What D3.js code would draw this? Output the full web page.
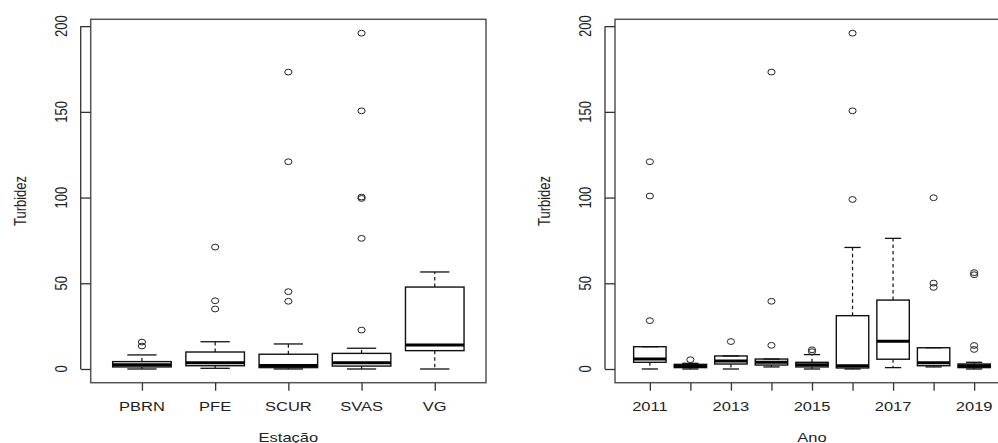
<!DOCTYPE html>
<html>
<head>
<meta charset="utf-8">
<script src="https://cdn.jsdelivr.net/npm/d3@7"></script>
<style>
  body { margin: 0; background: #fff; }
  svg { display: block; }
  text { font-family: "Liberation Sans", Arial, sans-serif; fill: #222; }
</style>
</head>
<body>
<svg id="chart" width="998" height="443"></svg>
<script>
// Panel 1: turbidity by station
const stations = ['PBRN', 'PFE', 'SCUR', 'SVAS', 'VG'];
const stLow = [0, 0.4, 0, 0, 0];
const stQ1 = [1.2, 1.9, 0.8, 1.7, 10.7];
const stMed = [2.5, 3.7, 2.0, 3.7, 14.0];
const stQ3 = [4.3, 9.9, 8.6, 9.1, 47.8];
const stHigh = [8.2, 15.9, 14.6, 12.1, 56.6];
const stOut = [
  [15.7, 13.4],
  [71.1, 39.8, 35.0],
  [173.2, 120.9, 45.1, 39.5],
  [195.9, 150.6, 100.3, 99.5, 76.2, 22.7],
  []
];

// Panel 2: turbidity by year
const years = ['2011', '2012', '2013', '2014', '2015', '2016', '2017', '2018', '2019'];
const yrTickLabels = ['2011', '', '2013', '', '2015', '', '2017', '', '2019'];
const yrLow = [0, 0, 0, 1.2, 0, 0, 0.8, 1.2, 0];
const yrQ1 = [3.9, 0.8, 2.9, 2.3, 1.2, 0.6, 5.7, 1.9, 0.8];
const yrMed = [5.8, 1.6, 4.7, 3.9, 2.5, 1.9, 16.2, 3.7, 1.9];
const yrQ3 = [13.0, 2.7, 7.6, 5.8, 3.9, 31.1, 40.2, 12.4, 2.9];
const yrHigh = [13.0, 3.3, 7.6, 5.8, 8.4, 70.9, 76.2, 12.4, 3.9];
const yrOut = [
  [120.9, 100.9, 28.2],
  [5.4],
  [16.0],
  [173.2, 39.5, 13.8],
  [11.2, 10.1],
  [195.9, 150.6, 98.9],
  [],
  [99.9, 50.1, 47.6],
  [56.2, 55.0, 13.7, 11.4]
];

const yTicks = [0, 50, 100, 150, 200];

const svg = d3.select('#chart');
const SX = 1.27; // the picture is stretched horizontally
const plotTop = 19.3, plotBottom = 382.7;
const y = d3.scaleLinear().domain([-8, 204]).range([plotBottom, plotTop]);

function panel(opts) {
  const n = opts.cats.length;
  const x = d3.scaleLinear()
    .domain([0.5 - 0.04 * n, n + 0.5 + 0.04 * n])
    .range([opts.left, opts.right]);
  const bw = 0.8 * (x(2) - x(1));
  const g = svg.append('g');

  const stats = opts.cats.map((c, i) => ({
    i: i + 1, lo: opts.low[i], q1: opts.q1[i], med: opts.med[i],
    q3: opts.q3[i], hi: opts.high[i], out: opts.out[i]
  }));

  const wk = g.selectAll('g.box').data(stats).enter().append('g').attr('class', 'box');
  // whiskers (dashed)
  wk.append('line')
    .attr('x1', d => x(d.i)).attr('x2', d => x(d.i))
    .attr('y1', d => y(d.q3)).attr('y2', d => y(d.hi))
    .attr('stroke', '#111').attr('stroke-width', 1.2).attr('stroke-dasharray', '3.5,3');
  wk.append('line')
    .attr('x1', d => x(d.i)).attr('x2', d => x(d.i))
    .attr('y1', d => y(d.q1)).attr('y2', d => y(d.lo))
    .attr('stroke', '#111').attr('stroke-width', 1.2).attr('stroke-dasharray', '3.5,3');
  // staples
  ['hi', 'lo'].forEach(k => {
    wk.append('line')
      .attr('x1', d => x(d.i) - bw / 4).attr('x2', d => x(d.i) + bw / 4)
      .attr('y1', d => y(d[k])).attr('y2', d => y(d[k]))
      .attr('stroke', '#111').attr('stroke-width', 1.3);
  });
  // box
  wk.append('rect')
    .attr('x', d => x(d.i) - bw / 2).attr('width', bw)
    .attr('y', d => y(d.q3)).attr('height', d => y(d.q1) - y(d.q3))
    .attr('fill', 'none').attr('stroke', '#111').attr('stroke-width', 1.4);
  // median
  wk.append('line')
    .attr('x1', d => x(d.i) - bw / 2).attr('x2', d => x(d.i) + bw / 2)
    .attr('y1', d => y(d.med)).attr('y2', d => y(d.med))
    .attr('stroke', '#000').attr('stroke-width', 3);
  // outliers
  wk.selectAll('ellipse').data(d => d.out.map(v => ({ i: d.i, v }))).enter()
    .append('ellipse')
    .attr('cx', d => x(d.i)).attr('cy', d => y(d.v))
    .attr('rx', 3.6).attr('ry', 2.9)
    .attr('fill', 'none').attr('stroke', '#222').attr('stroke-width', 1);

  // frame
  g.append('rect')
    .attr('x', opts.left).attr('y', plotTop)
    .attr('width', opts.right - opts.left).attr('height', plotBottom - plotTop)
    .attr('fill', 'none').attr('stroke', '#555').attr('stroke-width', 1.5);

  // y axis
  const yAxis = g.append('g').attr('transform', `translate(${opts.left - 10},0)`)
    .call(d3.axisRight(y).tickValues(yTicks).tickSize(10).tickFormat(''));
  yAxis.select('.domain').remove();
  yAxis.selectAll('.tick line').attr('stroke', '#333').attr('stroke-width', 1.3);
  g.append('line')
    .attr('x1', opts.left - 10).attr('x2', opts.left - 10)
    .attr('y1', y(0)).attr('y2', y(200))
    .attr('stroke', '#333').attr('stroke-width', 1.3);
  g.selectAll('text.ytl').data(yTicks).enter().append('text')
    .attr('class', 'ytl')
    .attr('transform', d => `translate(${opts.left - 24},${y(d)}) scale(${SX},1) rotate(-90)`)
    .attr('text-anchor', 'middle').attr('font-size', 13)
    .text(d => d);

  // x axis
  const xAxis = g.append('g').attr('transform', `translate(0,${plotBottom})`)
    .call(d3.axisBottom(x).tickValues(d3.range(1, n + 1)).tickSize(8).tickFormat(''));
  xAxis.select('.domain').remove();
  xAxis.selectAll('.tick line').attr('stroke', '#333').attr('stroke-width', 1.3);
  g.selectAll('text.xtl').data(opts.tickLabels).enter().append('text')
    .attr('class', 'xtl')
    .attr('transform', (d, i) => `translate(${x(i + 1)},${plotBottom + 28}) scale(${SX},1)`)
    .attr('text-anchor', 'middle').attr('font-size', 13)
    .text(d => d);

  // titles
  g.append('text')
    .attr('transform', `translate(${(opts.left + opts.right) / 2},441.5) scale(${SX},1)`)
    .attr('text-anchor', 'middle').attr('font-size', 13)
    .text(opts.xTitle);
  g.append('text')
    .attr('transform', `translate(${opts.left - 64.7},${(plotTop + plotBottom) / 2}) scale(${SX},1) rotate(-90)`)
    .attr('text-anchor', 'middle').attr('font-size', 13)
    .text('Turbidez');
}

panel({
  cats: stations, tickLabels: stations, low: stLow, q1: stQ1, med: stMed, q3: stQ3,
  high: stHigh, out: stOut, left: 90.7, right: 486, xTitle: 'Estação'
});
panel({
  cats: years, tickLabels: yrTickLabels, low: yrLow, q1: yrQ1, med: yrMed, q3: yrQ3,
  high: yrHigh, out: yrOut, left: 615, right: 1009, xTitle: 'Ano'
});
</script>
</body>
</html>
